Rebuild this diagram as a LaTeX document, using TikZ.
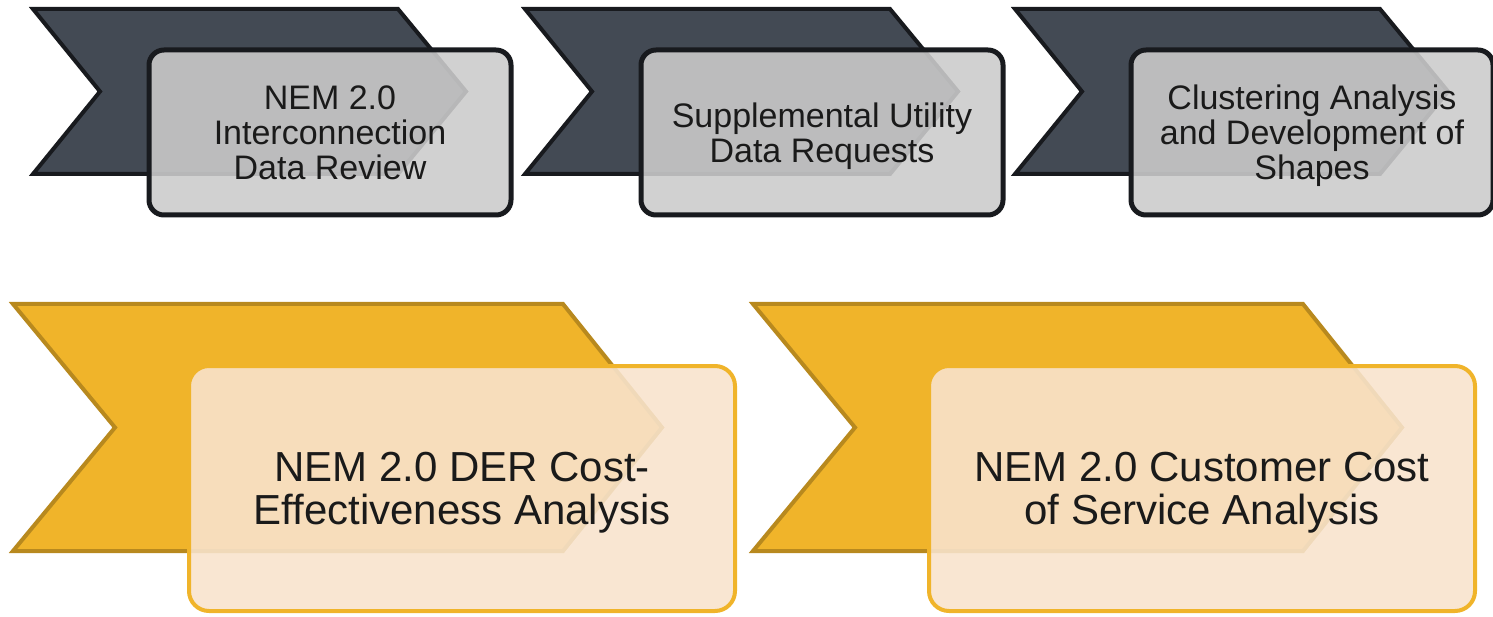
\documentclass[tikz,border=0pt]{standalone}
\usepackage{fontspec}
\setmainfont{Liberation Sans}
\usetikzlibrary{positioning}

\definecolor{slate}{RGB}{67,74,84}
\definecolor{slateline}{RGB}{24,26,30}
\definecolor{greyfill}{RGB}{203,203,203}
\definecolor{gold}{RGB}{240,180,42}
\definecolor{goldline}{RGB}{184,137,30}
\definecolor{cream}{RGB}{248,227,205}
\definecolor{inktext}{RGB}{26,26,26}

\begin{document}
\begin{tikzpicture}[x=1pt, y=-1pt,
		  % Define the style of the dark chevrons
		  darkchev/.style={fill=slate, draw=slateline, line width=4pt},
		  % Define the style of the gold chevrons
		  goldchev/.style={fill=gold, draw=goldline, line width=4pt},
		  % Define the style of the grey step boxes
		  greybox/.style={draw=slateline, line width=5pt, fill=greyfill, fill opacity=0.89, text opacity=1,
		    rounded corners=15pt, minimum width=362pt, minimum height=165pt, inner sep=0pt, text depth=0pt,
		    align=center, text=inktext, font=\fontsize{34}{35}\selectfont},
		  % Define the style of the cream step boxes
		  goldbox/.style={draw=gold, line width=4pt, fill=cream, fill opacity=0.89, text opacity=1,
		    rounded corners=20pt, minimum width=546pt, minimum height=245pt, inner sep=0pt, text depth=0pt,
		    align=center, text=inktext, font=\fontsize{42}{43.5}\selectfont}
		  ]
		  \useasboundingbox (0,0) rectangle (1493,617);

		  % Top row of steps
		  \foreach \x/\txt [count=\i] in {33/{NEM 2.0\\Interconnection\\Data Review},
		      525/{Supplemental Utility\\Data Requests},
		      1015/{Clustering Analysis\\and Development of\\Shapes}} {
		    \draw[darkchev] (\x,9) -- ++(365,0) -- ++(68,82.5) -- ++(-68,82.5) -- ++(-365,0) -- ++(67,-82.5) -- cycle;
		    \node[greybox] (step\i) at (\x+297,132.5) {\txt};
		  }

		  % Bottom row of steps
		  \foreach \x/\txt [count=\i from 4] in {13/{NEM 2.0 DER Cost-\\Effectiveness Analysis},
		      753/{NEM 2.0 Customer Cost\\of Service Analysis}} {
		    \draw[goldchev] (\x,304) -- ++(550,0) -- ++(99,123.5) -- ++(-99,123.5) -- ++(-550,0) -- ++(102,-123.5) -- cycle;
		    \node[goldbox] (step\i) at (\x+449,488.5) {\txt};
		  }
    \end{tikzpicture}
\end{document}
